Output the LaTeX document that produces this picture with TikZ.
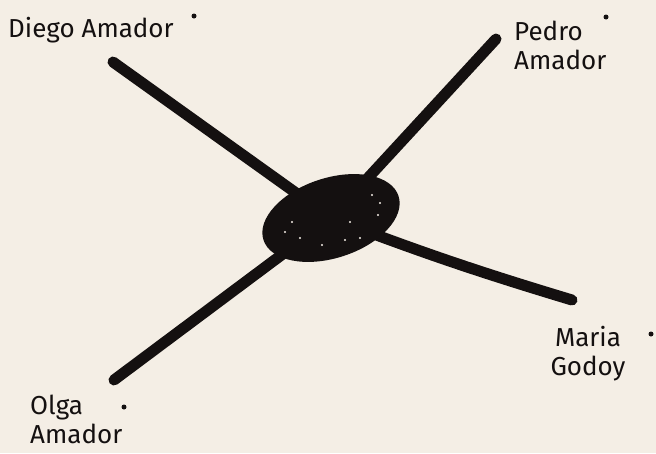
\documentclass[tikz,border=0pt]{standalone}
\usepackage{fontspec}
\setmainfont{Fira Sans}
\usetikzlibrary{shapes.geometric}
\definecolor{paper}{HTML}{F4EEE5}
\definecolor{ink}{HTML}{141010}
\tikzset{
    arm/.style={line width=11pt, line cap=round, ink},
    who/.style={font=\fontsize{26}{29}\selectfont, text=ink, inner sep=0pt, align=left},
    speck/.style={circle, fill=ink, inner sep=0pt, minimum size=5pt}
}
\begin{document}
\begin{tikzpicture}[x=1pt, y=-1pt]
    \fill[paper] (0,0) rectangle (656,453);
    \useasboundingbox (0,0) rectangle (656,453);

    % the family members
    \node[who, anchor=west] (diego) at (8,30) {Diego Amador};
    \node[who, anchor=west] (pedro) at (514,45) {Pedro\\Amador};
    \node[who, align=center] (maria) at (588,354) {Maria\\Godoy};
    \node[who, anchor=west] (olga) at (30,419) {Olga\\Amador};

    \node[speck] (d1) at (194,16) {};
    \node[speck] (d2) at (606,17) {};
    \node[speck] (d3) at (651,334) {};
    \node[speck] (d4) at (124,407) {};

    % free ends of the arms
    \coordinate (dend) at (113,62);
    \coordinate (pend) at (496,39);
    \coordinate (mend) at (572,300);
    \coordinate (oend) at (114,380);

    \node[ellipse, fill=ink, minimum width=142pt, minimum height=80pt, rotate=18] (hub) at (331,218) {};

    \draw[arm] (dend) -- (hub.center);
    \draw[arm] (pend) -- (hub.center);
    \draw[arm] (mend) to[bend left=2] (hub.center);
    \draw[arm] (oend) -- (hub.center);

    % light specks on the hub
    \foreach \p in {(300,238),(285,232),(350,222),(372,195),(380,203),(322,245),(345,240),(360,238),(292,222),(378,215)} {
        \fill[paper] \p circle (1.2pt);
    }
\end{tikzpicture}
\end{document}
